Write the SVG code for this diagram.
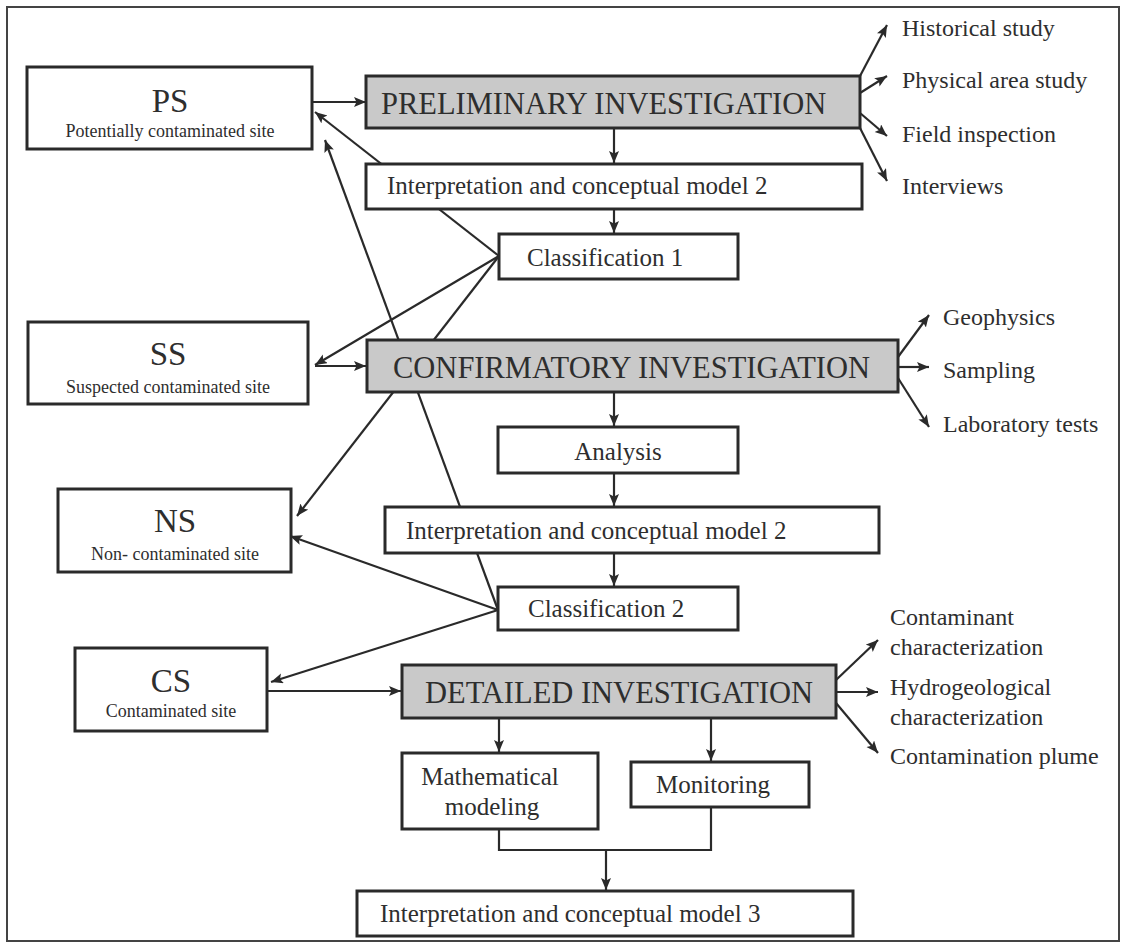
<svg xmlns="http://www.w3.org/2000/svg" width="1126" height="944" viewBox="0 0 1126 944">
<style>
.box{fill:#fff;stroke:#2a2a2a;stroke-width:3}
.inv{fill:#c9c9c9;stroke:#2a2a2a;stroke-width:3}
.ln{fill:none;stroke:#2a2a2a;stroke-width:2.2}
.t{font-family:"Liberation Serif","Times New Roman",serif;fill:#2e2e2e}
.big{font-size:30.5px}
.site{font-size:33px}
.sub{font-size:18px}
.mid{font-size:25px}
.lst{font-size:24px}
</style>
<defs>
<marker id="ah" markerUnits="userSpaceOnUse" markerWidth="13" markerHeight="11" refX="12" refY="5" orient="auto">
<path d="M0,0 L12,5 L0,10 L2.5,5 z" fill="#2a2a2a"/>
</marker>
</defs>
<rect x="7" y="7" width="1112" height="934" fill="#fff" stroke="#444" stroke-width="2"/>
<g id="connectors">
<line class="ln" x1="312" y1="102" x2="366" y2="102" marker-end="url(#ah)"/>
<line class="ln" x1="614" y1="128" x2="614" y2="163" marker-end="url(#ah)"/>
<line class="ln" x1="614" y1="209" x2="614" y2="233" marker-end="url(#ah)"/>
<line class="ln" x1="860" y1="76" x2="887" y2="25" marker-end="url(#ah)"/>
<line class="ln" x1="860" y1="93" x2="887" y2="76" marker-end="url(#ah)"/>
<line class="ln" x1="860" y1="113" x2="887" y2="136" marker-end="url(#ah)"/>
<line class="ln" x1="860" y1="128" x2="887" y2="181" marker-end="url(#ah)"/>
<line class="ln" x1="499" y1="256" x2="315" y2="112" marker-end="url(#ah)"/>
<line class="ln" x1="499" y1="256" x2="315" y2="365" marker-end="url(#ah)"/>
<line class="ln" x1="499" y1="256" x2="297" y2="516" marker-end="url(#ah)"/>
<line class="ln" x1="315" y1="366" x2="366" y2="366" marker-end="url(#ah)"/>
<line class="ln" x1="614" y1="392" x2="614" y2="426" marker-end="url(#ah)"/>
<line class="ln" x1="614" y1="473" x2="614" y2="506" marker-end="url(#ah)"/>
<line class="ln" x1="614" y1="553" x2="614" y2="586" marker-end="url(#ah)"/>
<line class="ln" x1="898" y1="357" x2="929" y2="315" marker-end="url(#ah)"/>
<line class="ln" x1="898" y1="367" x2="929" y2="367" marker-end="url(#ah)"/>
<line class="ln" x1="898" y1="378" x2="929" y2="427" marker-end="url(#ah)"/>
<line class="ln" x1="498" y1="610" x2="325" y2="140" marker-end="url(#ah)"/>
<line class="ln" x1="498" y1="610" x2="290" y2="536" marker-end="url(#ah)"/>
<line class="ln" x1="498" y1="610" x2="271" y2="682" marker-end="url(#ah)"/>
<line class="ln" x1="267" y1="691" x2="401" y2="691" marker-end="url(#ah)"/>
<line class="ln" x1="836" y1="680" x2="878" y2="640" marker-end="url(#ah)"/>
<line class="ln" x1="836" y1="692" x2="878" y2="692" marker-end="url(#ah)"/>
<line class="ln" x1="836" y1="703" x2="878" y2="753" marker-end="url(#ah)"/>
<line class="ln" x1="499" y1="718" x2="499" y2="752" marker-end="url(#ah)"/>
<line class="ln" x1="711" y1="718" x2="711" y2="761" marker-end="url(#ah)"/>
<polyline class="ln" points="499,829 499,850 711,850 711,807"/>
<line class="ln" x1="606" y1="850" x2="606" y2="890" marker-end="url(#ah)"/>
</g>
<g id="ps">
<rect class="box" x="27" y="67" width="285" height="82"/>
<text class="t site" x="170" y="112" text-anchor="middle">PS</text>
<text class="t sub" x="170" y="137" text-anchor="middle">Potentially contaminated site</text>
</g>
<g id="preliminary">
<rect class="inv" x="366" y="76" width="494" height="52"/>
<text class="t big" x="381" y="114">PRELIMINARY INVESTIGATION</text>
</g>
<g id="interp1">
<rect class="box" x="366" y="164" width="496" height="45"/>
<text class="t mid" x="387" y="194">Interpretation and conceptual model 2</text>
</g>
<g id="class1">
<rect class="box" x="499" y="234" width="239" height="45"/>
<text class="t mid" x="527" y="266">Classification 1</text>
</g>
<g id="prelim-list">
<text class="t lst" x="902" y="36">Historical study</text>
<text class="t lst" x="902" y="88">Physical area study</text>
<text class="t lst" x="902" y="142">Field inspection</text>
<text class="t lst" x="902" y="194">Interviews</text>
</g>
<g id="ss">
<rect class="box" x="28" y="322" width="280" height="82"/>
<text class="t site" x="168" y="365" text-anchor="middle">SS</text>
<text class="t sub" x="168" y="393" text-anchor="middle">Suspected contaminated site</text>
</g>
<g id="confirmatory">
<rect class="inv" x="367" y="340" width="531" height="52"/>
<text class="t big" x="393" y="378">CONFIRMATORY INVESTIGATION</text>
</g>
<g id="confirm-list">
<text class="t lst" x="943" y="325">Geophysics</text>
<text class="t lst" x="943" y="378">Sampling</text>
<text class="t lst" x="943" y="432">Laboratory tests</text>
</g>
<g id="analysis">
<rect class="box" x="498" y="427" width="240" height="46"/>
<text class="t mid" x="618" y="460" text-anchor="middle">Analysis</text>
</g>
<g id="ns">
<rect class="box" x="58" y="489" width="233" height="83"/>
<text class="t site" x="175" y="532" text-anchor="middle">NS</text>
<text class="t sub" x="175" y="560" text-anchor="middle">Non- contaminated site</text>
</g>
<g id="interp2">
<rect class="box" x="385" y="507" width="494" height="46"/>
<text class="t mid" x="406" y="539">Interpretation and conceptual model 2</text>
</g>
<g id="class2">
<rect class="box" x="498" y="587" width="240" height="43"/>
<text class="t mid" x="528" y="617">Classification 2</text>
</g>
<g id="cs">
<rect class="box" x="75" y="648" width="192" height="83"/>
<text class="t site" x="171" y="692" text-anchor="middle">CS</text>
<text class="t sub" x="171" y="717" text-anchor="middle">Contaminated site</text>
</g>
<g id="detailed">
<rect class="inv" x="402" y="665" width="434" height="53"/>
<text class="t big" x="425" y="703">DETAILED INVESTIGATION</text>
</g>
<g id="detailed-list">
<text class="t lst" x="890" y="625">Contaminant</text>
<text class="t lst" x="890" y="655">characterization</text>
<text class="t lst" x="890" y="695">Hydrogeological</text>
<text class="t lst" x="890" y="725">characterization</text>
<text class="t lst" x="890" y="764">Contamination plume</text>
</g>
<g id="math">
<rect class="box" x="402" y="753" width="196" height="76"/>
<text class="t mid" x="490" y="785" text-anchor="middle">Mathematical</text>
<text class="t mid" x="492" y="815" text-anchor="middle">modeling</text>
</g>
<g id="monitoring">
<rect class="box" x="631" y="762" width="178" height="45"/>
<text class="t mid" x="713" y="793" text-anchor="middle">Monitoring</text>
</g>
<g id="interp3">
<rect class="box" x="357" y="891" width="496" height="45"/>
<text class="t mid" x="380" y="922">Interpretation and conceptual model 3</text>
</g>
</svg>
